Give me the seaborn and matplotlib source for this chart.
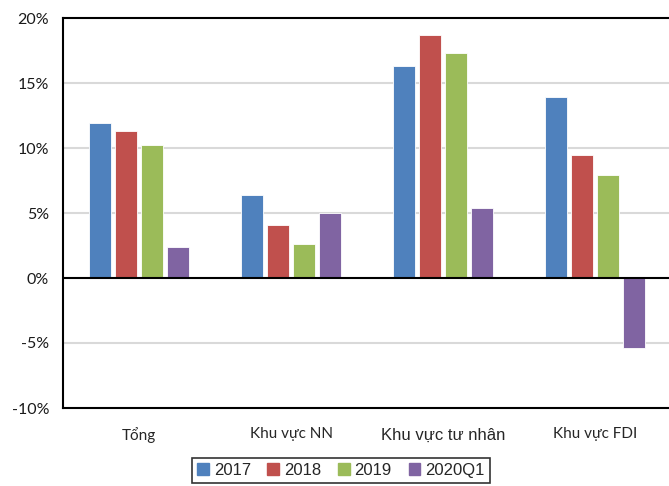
import pandas as pd
import numpy as np
import matplotlib
matplotlib.use('Agg')
import matplotlib.pyplot as plt
import seaborn as sns

# Data
categories = ['Tổng', 'Khu vực NN', 'Khu vực tư nhân', 'Khu vực FDI']
years = ['2017', '2018', '2019', '2020Q1']
v2017 = [11.9, 6.4, 16.3, 13.9]
v2018 = [11.3, 4.1, 18.7, 9.5]
v2019 = [10.2, 2.6, 17.3, 7.9]
v2020q1 = [2.4, 5.0, 5.4, -5.4]
colors = ['#4F81BD', '#C0504D', '#9BBB59', '#8064A2']
yticks = [-10, -5, 0, 5, 10, 15, 20]

data = pd.DataFrame({
    'category': categories * 4,
    'year': np.repeat(years, 4),
    'value': v2017 + v2018 + v2019 + v2020q1,
})

sns.set_style('white')
plt.rcParams['font.family'] = ['Lato', 'DejaVu Sans']

fig = plt.figure(figsize=(6.69, 4.86), dpi=100)
ax = fig.add_axes([63 / 669, 1 - 408 / 486, 608 / 669, 390 / 486])

sns.barplot(data=data, x='category', y='value', hue='year', order=categories,
            hue_order=years, palette=colors, width=0.69, gap=0.16,
            saturation=1, edgecolor='white', linewidth=0.6, legend=False, ax=ax)

ax.set_xlim(-0.5, 3.5)
ax.set_ylim(-10, 20)
ax.set_yticks(yticks)
ax.set_yticklabels([f'{t}%' for t in yticks], fontsize=11.5, color='#1a1a1a')
ax.tick_params(axis='y', length=0, pad=10)
ax.tick_params(axis='x', length=0, pad=14)
for t in yticks:
    if t not in (-10, 0, 20):
        ax.axhline(t, color='#D9D9D9', linewidth=1.5, zorder=0)
ax.axhline(0, color='black', linewidth=1.5, zorder=3)

ax.set_xlabel('')
ax.set_ylabel('')
labels = ax.set_xticklabels(categories, fontsize=11)
labels[2].set_fontfamily('Liberation Sans')
labels[2].set_fontsize(12)

for side in ['left', 'top', 'bottom', 'right']:
    ax.spines[side].set_color('black')
    ax.spines[side].set_linewidth(1.5)

handles = [plt.Rectangle((0, 0), 1, 1, color=c) for c in colors]
leg = fig.legend(handles, years, loc='upper left', bbox_to_anchor=(192 / 669, 1 - 458 / 486),
                 ncol=4, frameon=True, fancybox=False, edgecolor='black',
                 prop={'family': 'Liberation Sans', 'size': 12},
                 handlelength=0.7, handleheight=0.7, handletextpad=0.3,
                 columnspacing=1.0, borderpad=0.3, borderaxespad=0)
leg.get_frame().set_linewidth(1.2)

fig.savefig('out.png', dpi=100)
